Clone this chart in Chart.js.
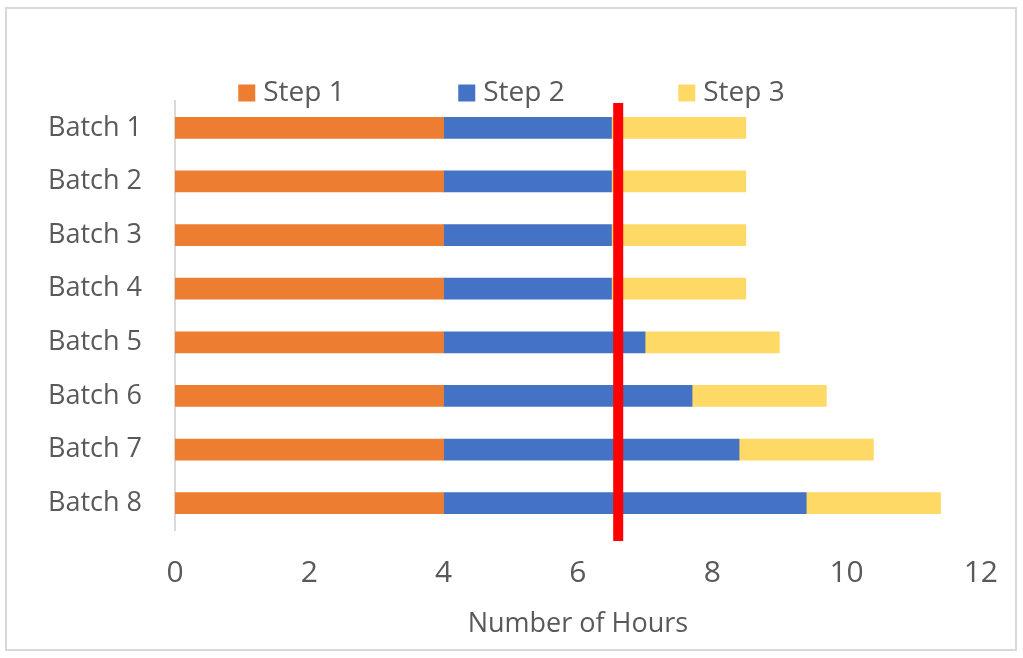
<!DOCTYPE html>
<html>
<head>
<meta charset="utf-8">
<script src="https://cdn.jsdelivr.net/npm/chart.js@4/dist/chart.umd.min.js"></script>
<style>
  html, body { margin: 0; padding: 0; background: #ffffff; }
  #wrap { position: absolute; left: 0; top: 0; width: 1023px; height: 658px; }
</style>
</head>
<body>
<div id="wrap"><canvas id="c" width="1023" height="658"></canvas></div>
<script>
const categories = ["Batch 1", "Batch 2", "Batch 3", "Batch 4", "Batch 5", "Batch 6", "Batch 7", "Batch 8"];
const seriesNames = ["Step 1", "Step 2", "Step 3"];
const step1 = [4, 4, 4, 4, 4, 4, 4, 4];
const step2 = [2.5, 2.5, 2.5, 2.5, 3.0, 3.7, 4.4, 5.4];
const step3 = [2, 2, 2, 2, 2, 2, 2, 2];
const seriesColors = ["#ED7D31", "#4472C4", "#FFD966"];
const xMin = 0, xMax = 12, xStep = 2;
const markerHours = 6.6;
const axisTitle = "Number of Hours";

const FONT = "'Open Sans', 'Noto Sans', sans-serif";
const TEXT = "#595959";

const borderPlugin = {
  id: 'outerBorder',
  beforeDraw(chart) {
    const ctx = chart.ctx;
    ctx.save();
    ctx.fillStyle = '#ffffff';
    ctx.fillRect(0, 0, chart.width, chart.height);
    ctx.strokeStyle = '#d9d9d9';
    ctx.lineWidth = 2;
    ctx.strokeRect(6, 8, 1010, 642);
    ctx.restore();
  }
};

const markerPlugin = {
  id: 'markerLine',
  afterDatasetsDraw(chart) {
    const ctx = chart.ctx;
    const x = chart.scales.x.getPixelForValue(markerHours);
    const a = chart.chartArea;
    ctx.save();
    ctx.fillStyle = '#ff0000';
    ctx.fillRect(x - 5, a.top + 2, 10, a.bottom - a.top + 9);
    ctx.restore();
  }
};

const legendPlugin = {
  id: 'customLegend',
  afterDraw(chart) {
    const ctx = chart.ctx;
    ctx.save();
    ctx.font = "28px " + FONT;
    ctx.textBaseline = 'middle';
    ctx.textAlign = 'left';
    const stride = 220;
    const boxW = 17, gap = 8;
    const tw = ctx.measureText(seriesNames[0]).width;
    const total = stride * (seriesNames.length - 1) + boxW + gap + tw;
    const x0 = chart.width / 2 - total / 2;
    const yc = 92;
    chart.data.datasets.forEach((ds, i) => {
      const x = x0 + i * stride;
      ctx.fillStyle = ds.backgroundColor;
      ctx.fillRect(x, yc - boxW / 2 + 1, boxW, boxW);
      ctx.fillStyle = TEXT;
      ctx.fillText(ds.label, x + boxW + gap, yc + 1);
    });
    ctx.restore();
  }
};

const xTickValues = [];
for (let v = xMin; v <= xMax; v += xStep) xTickValues.push(v);

new Chart(document.getElementById('c'), {
  type: 'bar',
  data: {
    labels: categories,
    datasets: [
      { label: seriesNames[0], data: step1, backgroundColor: seriesColors[0] },
      { label: seriesNames[1], data: step2, backgroundColor: seriesColors[1] },
      { label: seriesNames[2], data: step3, backgroundColor: seriesColors[2] }
    ]
  },
  options: {
    indexAxis: 'y',
    responsive: false,
    animation: false,
    layout: { padding: { top: 101, right: 42, left: 0, bottom: 0 } },
    datasets: { bar: { barThickness: 21, borderWidth: 0 } },
    plugins: {
      legend: { display: false },
      tooltip: { enabled: false }
    },
    scales: {
      x: {
        stacked: true,
        min: xMin, max: xMax,
        afterBuildTicks(scale) { scale.ticks = xTickValues.map(v => ({ value: v })); },
        afterFit(scale) { scale.height = 128; },
        grid: { display: false, drawTicks: false },
        border: { display: false },
        ticks: { color: TEXT, font: { family: FONT, size: 30 }, padding: 25, maxRotation: 0 },
        title: { display: true, text: axisTitle, color: TEXT, font: { family: FONT, size: 27 }, padding: { top: 0, bottom: 17 } }
      },
      y: {
        stacked: true,
        afterFit(scale) { scale.width = 175; },
        grid: { display: false, drawTicks: false },
        border: { display: true, color: '#d9d9d9', width: 2 },
        ticks: { color: TEXT, font: { family: FONT, size: 27 }, padding: 33 }
      }
    }
  },
  plugins: [borderPlugin, markerPlugin, legendPlugin]
});
</script>
</body>
</html>
